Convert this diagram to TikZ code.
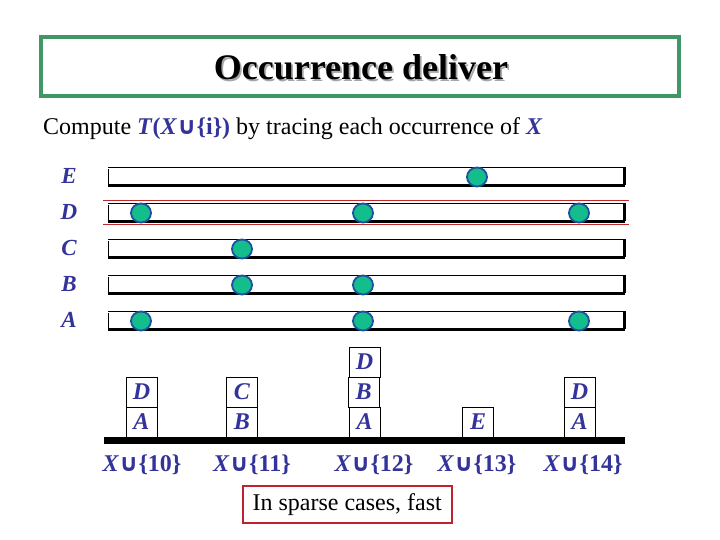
\documentclass[tikz,border=0pt]{standalone}
\usepackage{fontspec}
\usetikzlibrary{shapes.geometric}
\setmainfont{Liberation Serif}
\newfontfamily\symfont{DejaVu Sans}
\definecolor{txtblue}{RGB}{51,51,153}
\definecolor{dotfill}{RGB}{20,190,140}
\definecolor{dotline}{RGB}{30,80,160}
\definecolor{framegreen}{RGB}{64,150,100}
\definecolor{boxred}{RGB}{190,35,45}
\definecolor{linered}{RGB}{190,40,40}
\newcommand{\un}{{\symfont ∪}}
\begin{document}
\begin{tikzpicture}[x=1pt,y=-1pt,
  rowlabel/.style={font=\fontsize{23}{24}\selectfont\bfseries\itshape, text=txtblue, inner sep=0},
  dotmark/.style={ellipse, minimum width=20, minimum height=19, draw=dotline, line width=1.8, fill=dotfill, inner sep=0},
  itembox/.style={draw, line width=0.8, minimum width=31, minimum height=30, inner sep=0,
                  font=\fontsize{24}{24}\selectfont\bfseries\itshape, text=txtblue, fill=white},
  setlabel/.style={font=\fontsize{24}{26}\selectfont\bfseries, text=txtblue, inner sep=0, anchor=base},
  thinedge/.style={line width=1},
  thickedge/.style={line width=2.6},
]
\useasboundingbox (0,0) rectangle (720,540);
% title
\node[draw=framegreen, line width=3.5, minimum width=638, minimum height=59, inner sep=0] (frame) at (360,66.5) {};
\node[anchor=base, font=\fontsize{36}{40}\selectfont\bfseries, inner sep=0] (title) at (361,80)
  {\makebox[0pt][l]{\hspace{1.8pt}\raisebox{-1.8pt}{\textcolor{black!35}{Occurrence deliver}}}Occurrence deliver};
% subtitle
\node[anchor=base west, font=\fontsize{24}{28}\selectfont, inner sep=0] (sub) at (43,135)
  {Compute \textcolor{txtblue}{\textbf{\textit{T}(\textit{X}\un\{i\})}} by tracing each occurrence of \textcolor{txtblue}{\textbf{\textit{X}}}};
% red lines around D
\draw[linered, line width=1] (103,200.7) -- (629,200.7);
\draw[linered, line width=1] (103,224.2) -- (629,224.2);
% bars
\foreach \c/\n in {176.3/E,212.3/D,248.3/C,284.3/B,320.3/A}{
  \node[rowlabel] (lab\n) at (69,\c) {\n};
  \ifx\n D\else\draw[thinedge] (108,\c-9) -- (624,\c-9);\fi
  \draw[thickedge] (108,\c+9) -- (625.3,\c+9);
  \ifx\n E\else\draw[thinedge] (108.5,\c-7.5) -- (108.5,\c+9);\fi
  \draw[line width=3] (624,\c-9.5) -- (624,\c+9);
}
% dots
\node[dotmark] (dE1) at (477,177) {};
\node[dotmark] (dD1) at (141,213) {};
\node[dotmark] (dD2) at (363,213) {};
\node[dotmark] (dD3) at (579,213) {};
\node[dotmark] (dC1) at (242,249) {};
\node[dotmark] (dB1) at (242,285) {};
\node[dotmark] (dB2) at (363,285) {};
\node[dotmark] (dA1) at (141,321) {};
\node[dotmark] (dA2) at (363,321) {};
\node[dotmark] (dA3) at (579,321) {};
% baseline
\draw[line width=7] (104,440.5) -- (625,440.5);
% boxes
\node[itembox] (b10a) at (141.5,422) {A};
\node[itembox] (b10d) at (141.5,392) {D};
\node[itembox] (b11b) at (242,422) {B};
\node[itembox] (b11c) at (242,392) {C};
\node[itembox] (b12a) at (364.5,422) {A};
\node[itembox] (b12b) at (363.5,392) {B};
\node[itembox] (b12d) at (364.5,362) {D};
\node[itembox] (b13e) at (478,422) {E};
\node[itembox] (b14a) at (579.5,422) {A};
\node[itembox] (b14d) at (579.5,392) {D};
% set labels
\node[setlabel] (s10) at (142,471) {\textit{X}\un\{10\}};
\node[setlabel] (s11) at (252,471) {\textit{X}\un\{11\}};
\node[setlabel] (s12) at (374,471) {\textit{X}\un\{12\}};
\node[setlabel] (s13) at (477,471) {\textit{X}\un\{13\}};
\node[setlabel] (s14) at (583,471) {\textit{X}\un\{14\}};
% note
\node[draw=boxred, line width=2, minimum width=209, minimum height=37, inner sep=0,
      font=\fontsize{24}{28}\selectfont] (note) at (347.2,504.7) {In sparse cases, fast};
\end{tikzpicture}
\end{document}
